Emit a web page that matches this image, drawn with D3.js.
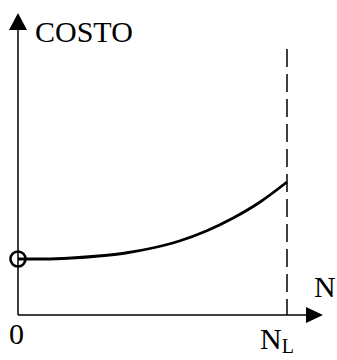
<!DOCTYPE html>
<html>
<head>
<meta charset="utf-8">
<script src="https://cdn.jsdelivr.net/npm/d3@7"></script>
<style>
  body { margin: 0; background: #fff; }
  text { font-family: "Liberation Serif", "Times New Roman", serif; fill: #000; }
</style>
</head>
<body>
<div id="chart"></div>
<script>
// N as fraction of N_L, cost (arbitrary units)
var nValues = [0, 0.1, 0.2, 0.3, 0.4, 0.5, 0.6, 0.7, 0.8, 0.9, 1];
var costValues = [56, 56, 57, 59, 62, 67, 74, 84, 97, 113, 133];
var yLabel = "COSTO";
var xLabel = "N";
var originLabel = "0";
var limitLabel = "N";
var limitSub = "L";

const width = 337;
const height = 360;

var svg = d3.select("#chart").append("svg")
  .attr("width", width)
  .attr("height", height);

/* Scales */
var xScale = d3.scaleLinear()
  .domain([0, 1])
  .range([18, 287]);

var yScale = d3.scaleLinear()
  .domain([0, 302])
  .range([315, 13]);

var data = nValues.map((n, i) => ({n: n, cost: costValues[i]}));

/* Axes */
svg.append("line")
  .attr("x1", xScale(0)).attr("y1", yScale(0))
  .attr("x2", xScale(0)).attr("y2", yScale(285))
  .attr("stroke", "#000").attr("stroke-width", 1.5);

svg.append("path")
  .attr("d", `M${xScale(0)},${yScale(302)} L${xScale(0) - 9},${yScale(285)} L${xScale(0) + 9},${yScale(285)} Z`)
  .attr("fill", "#000");

var xEnd = 323;
svg.append("line")
  .attr("x1", xScale(0)).attr("y1", yScale(0))
  .attr("x2", xEnd - 16).attr("y2", yScale(0))
  .attr("stroke", "#000").attr("stroke-width", 1.5);

svg.append("path")
  .attr("d", `M${xEnd},${yScale(0)} L${xEnd - 17},${yScale(0) - 8} L${xEnd - 17},${yScale(0) + 8} Z`)
  .attr("fill", "#000");

/* Dashed limit line at N_L */
svg.append("line")
  .attr("x1", xScale(1)).attr("y1", 49)
  .attr("x2", xScale(1)).attr("y2", yScale(0))
  .attr("stroke", "#000").attr("stroke-width", 1.5)
  .attr("stroke-dasharray", "18,7");

/* Cost curve */
var line = d3.line()
  .x(d => xScale(d.n))
  .y(d => yScale(d.cost))
  .curve(d3.curveMonotoneX);

svg.append("path")
  .datum(data)
  .attr("d", line)
  .attr("fill", "none")
  .attr("stroke", "#000")
  .attr("stroke-width", 2.8);

svg.append("circle")
  .attr("cx", xScale(0))
  .attr("cy", yScale(costValues[0]))
  .attr("r", 7.5)
  .attr("fill", "none")
  .attr("stroke", "#000")
  .attr("stroke-width", 2.6);

/* Labels */
svg.append("text")
  .attr("x", 35).attr("y", 42)
  .style("font-size", "30px")
  .text(yLabel);

svg.append("text")
  .attr("x", 314).attr("y", 297)
  .style("font-size", "30px")
  .text(xLabel);

svg.append("text")
  .attr("x", 9).attr("y", 344)
  .style("font-size", "30px")
  .text(originLabel);

var lim = svg.append("text")
  .attr("x", 260).attr("y", 349)
  .style("font-size", "30px")
  .text(limitLabel);
lim.append("tspan")
  .attr("dy", 4)
  .style("font-size", "20px")
  .text(limitSub);
</script>
</body>
</html>
